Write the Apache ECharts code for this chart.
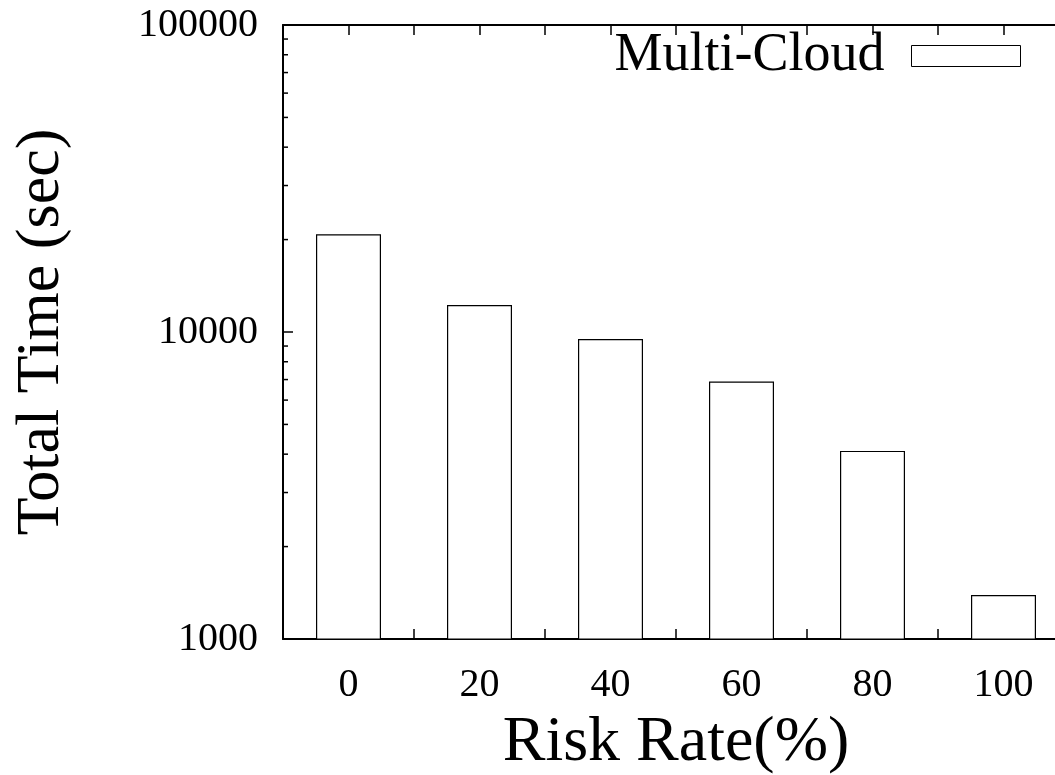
<!DOCTYPE html>
<html>
<head>
<meta charset="utf-8">
<script src="https://cdn.jsdelivr.net/npm/echarts@6/dist/echarts.min.js"></script>
<style>
html,body{margin:0;padding:0;background:#fff;}
#chart{width:1055px;height:775px;}
</style>
</head>
<body>
<div id="chart"></div>
<script>
const riskRates = [0, 20, 40, 60, 80, 100];
const multiCloud = [20800, 12250, 9480, 6900, 4100, 1390];
const yTickLabels = [1000, 10000, 100000];
const minorTickValues = [2000, 3000, 4000, 5000, 6000, 7000, 8000, 9000,
  20000, 30000, 40000, 50000, 60000, 70000, 80000, 90000];

const FONT = '"Liberation Serif", "Times New Roman", serif';
const chart = echarts.init(document.getElementById('chart'), null, {renderer: 'canvas'});

const xCommon = {
  type: 'value', min: -10, max: 110, interval: 10,
  splitLine: {show: false},
  axisLine: {show: true, onZero: false, lineStyle: {color: '#000', width: 2}},
  axisTick: {show: true, inside: true, length: 10, lineStyle: {color: '#000', width: 1.5}}
};

chart.setOption({
  animation: false,
  backgroundColor: '#fff',
  grid: {left: 283, top: 25, width: 786, height: 614, containLabel: false, outerBoundsMode: 'none'},
  legend: {
    show: true,
    right: 29, top: 24,
    align: 'right',
    itemWidth: 109, itemHeight: 21,
    icon: 'rect',
    textStyle: {fontFamily: FONT, fontSize: 54, color: '#000', padding: [0, 22, 0, 0]},
    data: [{name: 'Multi-Cloud', itemStyle: {color: '#fff', borderColor: '#000', borderWidth: 1}}]
  },
  xAxis: [
    Object.assign({}, xCommon, {
      position: 'bottom',
      name: 'Risk Rate(%)',
      nameLocation: 'middle',
      nameGap: 72,
      nameTextStyle: {fontFamily: FONT, fontSize: 64, color: '#000'},
      axisLabel: {
        fontFamily: FONT, fontSize: 40, color: '#000', margin: 26,
        formatter: function (v) { return (v >= 0 && v <= 100 && v % 20 === 0) ? String(v) : ''; }
      }
    }),
    Object.assign({}, xCommon, {
      position: 'top',
      axisLabel: {show: false}
    })
  ],
  yAxis: {
    type: 'log', logBase: 10, min: 1000, max: 100000,
    name: 'Total Time (sec)',
    nameLocation: 'middle',
    nameRotate: 90,
    nameGap: 210,
    nameTextStyle: {fontFamily: FONT, fontSize: 62, color: '#000'},
    splitLine: {show: false},
    axisLine: {show: true, onZero: false, lineStyle: {color: '#000', width: 2}},
    axisTick: {show: true, inside: true, length: 10, lineStyle: {color: '#000', width: 1.5}},
    minorTick: {show: false},
    axisLabel: {
      fontFamily: FONT, fontSize: 40, color: '#000', margin: 25,
      formatter: function (v) { return yTickLabels.indexOf(Math.round(v)) >= 0 ? String(Math.round(v)) : ''; }
    }
  },
  series: [
    {
      name: 'Multi-Cloud',
      type: 'bar',
      xAxisIndex: 0,
      barWidth: 65,
      data: riskRates.map((r, i) => [r, multiCloud[i]]),
      itemStyle: {color: '#fff', borderColor: '#000', borderWidth: 1.2},
      z: 3
    },
    {
      name: 'minorTicks',
      type: 'custom',
      xAxisIndex: 0,
      silent: true,
      data: minorTickValues.map(v => [-10, v]),
      renderItem: function (params, api) {
        const p = api.coord([-10, api.value(1)]);
        return {
          type: 'line',
          shape: {x1: p[0], y1: p[1], x2: p[0] + 5, y2: p[1]},
          style: {stroke: '#000', lineWidth: 1.5}
        };
      },
      z: 4
    }
  ]
});
</script>
</body>
</html>
